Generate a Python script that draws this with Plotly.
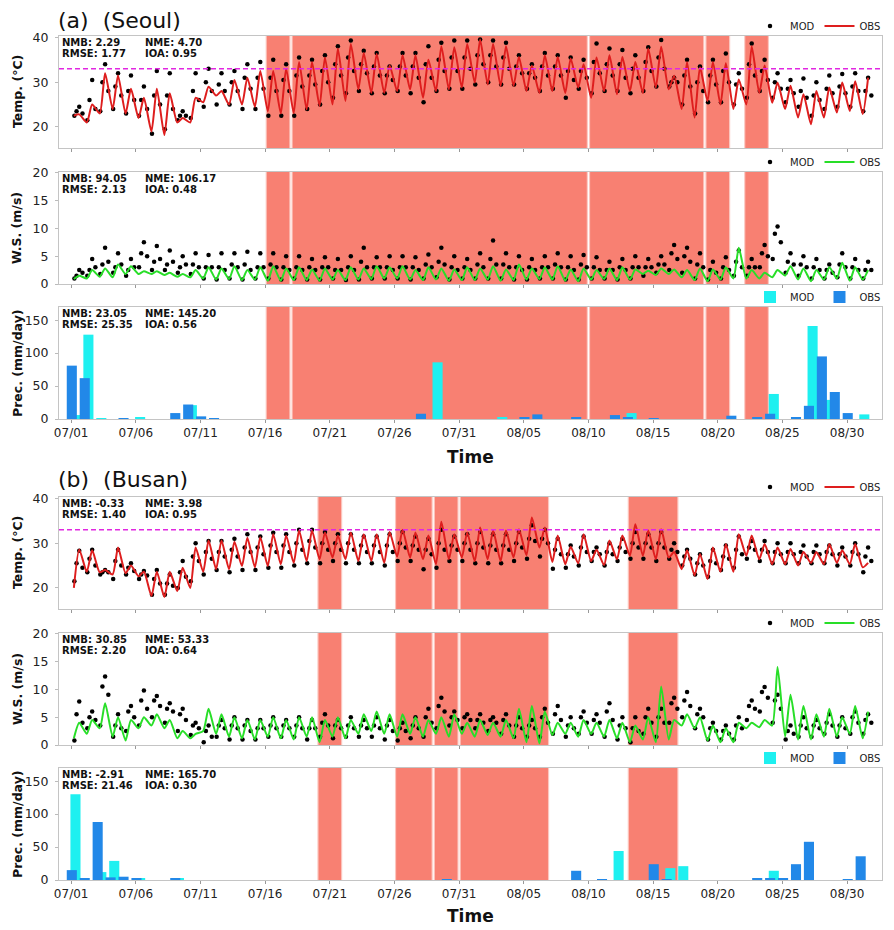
import plotly.graph_objects as go
import pandas as pd

# page is 894x930; the html body adds an 8px margin, so the figure is drawn 8px in
PAGE_W, PAGE_H = 894, 930
BODY = 8
W, H = PAGE_W - BODY, PAGE_H - BODY
START = pd.Timestamp("2018-07-01")
NDAYS = 62

tick_days = [0, 5, 10, 15, 20, 25, 30, 35, 40, 45, 50, 55, 60]
tick_labels = ["07/01", "07/06", "07/11", "07/16", "07/21", "07/26", "07/31",
               "08/05", "08/10", "08/15", "08/20", "08/25", "08/30"]

HEAT_THRESHOLD = 33

# heat-wave periods (day index from 07/01, [start, end))
seoul_heat = [(15, 17), (17, 40), (40, 49), (49, 51), (52, 54)]
busan_heat = [(19, 21), (25, 28), (28, 30), (30, 37), (43, 47)]

# ---------------- Seoul temperature (deg C) ----------------
seoul_t_obs_max = [22.8, 25.0, 32.0, 31.5, 28.5, 26.5, 28.5, 27.5, 22.0, 26.5,
                   29.0, 28.0, 30.5, 31.0, 32.5, 32.5, 33.0, 34.5, 34.5, 35.5,
                   37.5, 38.5, 36.5, 36.3, 33.7, 36.0, 36.0, 35.0, 38.0, 37.8,
                   38.5, 39.5, 38.5, 38.0, 35.6, 33.7, 36.0, 35.6, 35.3, 34.0,
                   35.5, 36.0, 35.6, 34.5, 37.5, 37.9, 31.4, 34.5, 33.3, 34.5,
                   34.2, 30.6, 38.0, 33.7, 29.9, 29.2, 27.3, 28.0, 28.8, 29.9,
                   30.2, 31.0]
seoul_t_obs_min = [22.5, 21.0, 23.0, 24.0, 23.0, 22.0, 19.0, 18.2, 21.0, 21.0,
                   25.5, 27.0, 25.0, 25.0, 24.5, 23.5, 23.0, 23.1, 23.9, 24.7,
                   25.0, 25.8, 28.4, 27.6, 27.6, 28.0, 28.4, 26.5, 28.0, 28.4,
                   28.8, 29.9, 29.5, 29.2, 29.2, 28.0, 27.6, 28.0, 27.6, 28.8,
                   26.5, 28.0, 27.3, 28.0, 27.6, 28.8, 28.4, 24.0, 22.1, 25.8,
                   25.0, 24.0, 25.0, 27.6, 25.4, 24.0, 22.1, 20.6, 22.1, 23.2,
                   23.6, 22.9]
seoul_t_mod_max = [24.5, 30.5, 34.0, 32.0, 31.5, 29.0, 32.5, 32.0, 23.5, 32.0,
                   33.0, 32.0, 32.5, 34.0, 34.5, 35.0, 34.0, 35.5, 35.0, 36.0,
                   38.0, 39.3, 37.0, 36.5, 33.5, 36.5, 36.5, 38.0, 38.8, 39.3,
                   39.3, 39.5, 39.3, 38.8, 36.0, 34.0, 36.5, 36.0, 35.5, 35.0,
                   38.6, 37.5, 37.2, 36.0, 37.8, 39.4, 31.0, 35.0, 33.5, 35.0,
                   36.4, 32.0, 38.6, 35.0, 32.0, 30.5, 30.8, 30.0, 31.5, 31.8,
                   32.0, 31.0]
seoul_t_mod_min = [22.5, 21.5, 23.5, 24.0, 23.0, 22.5, 18.5, 19.5, 21.5, 22.0,
                   24.5, 25.0, 25.0, 24.0, 24.0, 22.5, 22.5, 22.5, 24.0, 25.0,
                   26.5, 27.5, 28.0, 27.5, 27.5, 28.0, 27.5, 25.5, 28.0, 28.5,
                   28.5, 29.5, 30.0, 29.5, 29.5, 28.5, 28.0, 28.5, 26.5, 28.5,
                   27.5, 28.0, 28.0, 27.5, 28.0, 29.0, 29.0, 25.0, 23.0, 25.5,
                   25.5, 25.0, 26.5, 28.0, 26.5, 25.5, 24.5, 22.5, 24.0, 24.5,
                   24.5, 23.5]
seoul_t_mod_am = [23.5, 26.0, 30.0, 29.0, 28.0, 26.0, 27.0, 27.0, 22.5, 28.0,
                  30.0, 29.5, 30.0, 31.0, 31.0, 31.0, 30.5, 31.5, 31.5, 32.5,
                  34.0, 35.5, 34.0, 33.5, 31.5, 33.5, 33.5, 34.0, 35.0, 35.5,
                  35.5, 36.0, 36.0, 35.5, 33.5, 32.0, 33.5, 33.5, 32.5, 32.5,
                  34.5, 34.0, 34.0, 33.0, 34.5, 35.5, 30.0, 31.5, 30.0, 31.5,
                  32.5, 29.5, 34.0, 32.5, 30.0, 28.5, 28.0, 27.0, 28.5, 29.0,
                  29.0, 28.0]
seoul_t_mod_eve = [23.0, 24.0, 28.0, 27.0, 26.0, 24.0, 25.0, 24.0, 22.5, 26.0,
                   28.0, 28.0, 28.0, 28.5, 28.5, 28.0, 28.0, 29.0, 29.5, 30.0,
                   31.5, 32.5, 32.0, 31.5, 30.5, 31.5, 31.0, 31.0, 32.5, 32.5,
                   33.0, 34.0, 33.5, 33.0, 32.0, 31.0, 31.5, 31.5, 30.5, 31.0,
                   32.0, 31.5, 31.0, 31.0, 32.5, 33.0, 30.0, 29.0, 28.0, 29.5,
                   30.0, 28.5, 31.5, 30.5, 28.5, 27.5, 26.5, 26.0, 27.5, 27.5,
                   28.0, 27.0]

# ---------------- Busan temperature (deg C) ----------------
busan_t_obs_max = [28.6, 28.4, 24.0, 29.0, 25.0, 23.6, 23.6, 23.6, 24.5, 29.0,
                   30.6, 30.6, 30.3, 31.2, 31.3, 32.0, 31.7, 32.8, 32.8, 32.4,
                   31.7, 32.4, 32.0, 32.0, 32.5, 33.0, 32.4, 31.7, 34.8, 32.0,
                   32.4, 33.5, 32.8, 32.8, 33.1, 35.7, 33.5, 31.7, 29.2, 32.0,
                   28.5, 30.6, 31.7, 34.2, 32.8, 33.1, 28.0, 28.4, 27.6, 29.0,
                   29.8, 32.0, 31.7, 29.8, 29.0, 28.7, 28.0, 28.0, 29.8, 28.4,
                   29.8, 25.6]
busan_t_obs_min = [20.0, 23.6, 23.5, 23.0, 23.3, 22.6, 18.2, 18.0, 19.3, 20.0,
                   23.6, 24.2, 24.2, 24.9, 24.6, 24.9, 25.3, 25.6, 26.0, 26.4,
                   26.8, 26.4, 26.0, 26.0, 25.6, 27.0, 26.8, 26.4, 25.3, 26.4,
                   26.8, 26.0, 26.4, 26.0, 26.8, 27.3, 29.0, 25.8, 25.3, 25.5,
                   26.0, 25.1, 26.4, 27.2, 27.2, 26.4, 26.8, 24.2, 22.8, 22.0,
                   23.6, 23.6, 27.2, 26.4, 25.3, 25.3, 25.0, 25.6, 25.3, 25.6,
                   25.3, 24.6]
busan_t_mod_max = [28.3, 28.5, 24.0, 28.5, 25.5, 23.8, 24.0, 23.0, 26.0, 30.0,
                   30.5, 30.5, 31.0, 32.0, 31.5, 32.3, 32.0, 33.0, 33.0, 32.5,
                   32.0, 32.0, 31.5, 31.5, 32.0, 32.5, 31.5, 31.0, 33.0, 31.5,
                   32.0, 32.5, 32.0, 32.0, 32.5, 34.0, 33.0, 31.0, 29.5, 31.5,
                   29.0, 30.0, 31.0, 32.5, 32.0, 32.5, 30.0, 28.5, 27.5, 28.5,
                   29.5, 31.5, 30.5, 30.5, 30.0, 30.0, 29.5, 29.5, 29.5, 29.0,
                   30.0, 29.0]
busan_t_mod_min = [21.5, 23.5, 23.0, 22.0, 23.0, 22.0, 18.5, 18.5, 20.0, 21.5,
                   23.0, 24.0, 23.5, 24.0, 24.0, 24.5, 24.5, 25.0, 25.5, 25.5,
                   26.0, 25.5, 25.5, 25.5, 25.0, 26.0, 26.0, 24.2, 24.5, 26.0,
                   26.0, 25.5, 25.5, 25.5, 26.0, 26.5, 27.0, 24.3, 24.5, 25.0,
                   26.0, 25.0, 26.0, 26.5, 26.5, 26.0, 26.5, 25.0, 23.0, 22.5,
                   24.0, 24.5, 26.5, 26.0, 25.5, 25.5, 25.5, 25.5, 25.5, 25.0,
                   25.0, 23.5]
busan_t_mod_am = [25.5, 26.5, 23.5, 26.0, 24.5, 23.0, 22.0, 21.0, 23.5, 27.0,
                  28.0, 28.0, 28.5, 29.0, 29.0, 29.5, 29.5, 30.0, 30.5, 30.0,
                  30.0, 30.0, 29.5, 29.5, 29.5, 30.0, 29.5, 28.5, 30.0, 29.5,
                  30.0, 30.0, 29.5, 29.5, 30.0, 31.0, 31.0, 28.5, 27.5, 29.0,
                  28.0, 28.0, 29.0, 30.0, 30.0, 30.0, 28.5, 27.0, 25.5, 26.0,
                  27.0, 28.5, 29.0, 28.5, 28.0, 28.0, 28.0, 28.0, 28.0, 27.5,
                  28.0, 27.0]
busan_t_mod_eve = [24.5, 25.0, 23.5, 25.0, 23.8, 22.8, 21.0, 20.5, 22.5, 26.0,
                   26.5, 27.0, 27.0, 28.0, 27.5, 28.0, 28.0, 28.5, 29.0, 28.5,
                   28.5, 28.5, 28.0, 28.0, 28.0, 29.0, 28.5, 27.5, 28.5, 28.5,
                   28.5, 29.0, 28.5, 28.5, 29.0, 30.5, 30.0, 27.5, 27.0, 28.0,
                   27.5, 27.5, 28.0, 29.0, 29.0, 29.0, 28.0, 26.5, 25.0, 25.5,
                   26.5, 27.5, 28.5, 28.0, 27.5, 27.5, 27.0, 27.5, 27.5, 27.0,
                   27.5, 26.0]

# ---------------- Seoul wind speed (m/s) ----------------
seoul_w_obs_max = [1.5, 2.5, 2.8, 3.5, 3.2, 2.3, 2.3, 2.0, 1.8, 2.5,
                   3.0, 2.8, 3.2, 2.5, 3.0, 3.2, 2.8, 3.0, 2.6, 2.8,
                   2.5, 3.0, 2.8, 3.2, 3.0, 3.2, 2.5, 3.0, 2.8, 2.6,
                   3.0, 2.8, 3.2, 2.6, 3.5, 2.8, 3.0, 3.2, 2.6, 2.8,
                   2.5, 2.8, 3.0, 2.6, 2.4, 2.8, 2.6, 2.5, 2.8, 2.6,
                   3.0, 6.5, 2.5, 2.0, 2.5, 3.2, 2.8, 2.5, 3.0, 3.8,
                   3.0, 2.5]
seoul_w_obs_min = [0.9, 1.0, 1.3, 1.2, 1.8, 1.8, 1.8, 1.6, 1.3, 1.2,
                   1.0, 0.8, 0.9, 0.7, 0.8, 0.6, 0.6, 0.7, 0.7, 0.6,
                   0.8, 0.7, 0.8, 0.9, 1.0, 1.0, 0.8, 0.7, 0.8, 0.6,
                   0.7, 0.7, 0.8, 0.6, 0.7, 0.8, 0.9, 0.8, 0.6, 0.5,
                   0.8, 0.9, 0.7, 0.8, 1.8, 1.6, 1.8, 1.2, 0.7, 0.5,
                   0.8, 1.0, 1.0, 1.0, 1.2, 1.5, 0.8, 0.5, 0.8, 1.0,
                   0.6, 0.8]
seoul_w_mod_max = [2.5, 4.5, 6.5, 5.5, 4.5, 7.5, 6.8, 6.0, 5.0, 5.5,
                   5.2, 5.5, 5.5, 5.8, 5.5, 5.5, 5.0, 5.0, 4.5, 4.8,
                   4.5, 5.0, 6.5, 4.8, 5.0, 5.0, 4.8, 5.3, 6.5, 5.0,
                   4.5, 5.5, 7.8, 5.5, 5.0, 4.5, 5.0, 5.5, 5.0, 5.2,
                   4.8, 4.0, 4.5, 5.0, 4.5, 5.0, 7.0, 6.5, 5.5, 4.0,
                   4.8, 6.0, 4.5, 7.0, 10.3, 5.5, 5.0, 4.5, 3.5, 5.5,
                   4.5, 4.0]
seoul_w_mod_min = [1.0, 1.5, 1.8, 2.0, 1.5, 3.0, 2.5, 2.5, 2.0, 1.8,
                   1.0, 0.8, 1.0, 0.8, 1.0, 1.0, 0.8, 1.0, 0.8, 0.8,
                   1.0, 0.7, 0.8, 1.0, 1.0, 1.0, 0.8, 1.0, 1.2, 0.8,
                   1.0, 1.0, 1.0, 1.0, 0.8, 0.8, 1.0, 1.0, 0.8, 0.8,
                   1.0, 1.0, 0.8, 1.0, 1.5, 2.0, 2.5, 2.0, 1.0, 0.8,
                   1.0, 1.5, 1.5, 3.0, 4.5, 2.0, 1.5, 1.0, 1.0, 1.2,
                   1.0, 1.0]
seoul_w_mod_am = [1.5, 2.5, 3.5, 3.0, 2.5, 5.5, 4.0, 3.5, 3.0, 3.5,
                  3.0, 3.0, 3.5, 3.5, 3.0, 3.5, 3.0, 3.0, 3.0, 3.0,
                  2.5, 3.0, 4.0, 3.0, 3.0, 3.0, 3.0, 3.5, 4.0, 3.0,
                  3.0, 3.5, 4.5, 3.5, 3.0, 3.0, 3.0, 3.5, 3.0, 3.5,
                  3.0, 2.5, 3.0, 3.0, 3.0, 3.5, 5.5, 5.0, 3.5, 2.5,
                  3.0, 4.0, 3.0, 5.5, 9.0, 4.0, 3.5, 3.0, 2.5, 3.5,
                  3.0, 2.5]
seoul_w_mod_eve = [2.0, 3.0, 4.0, 3.5, 3.0, 5.0, 4.5, 4.0, 3.5, 3.0,
                   3.0, 2.5, 3.0, 2.5, 3.0, 3.0, 2.5, 2.5, 2.5, 3.0,
                   2.5, 2.5, 3.0, 3.0, 2.5, 3.0, 2.5, 3.0, 3.5, 2.5,
                   2.5, 3.0, 3.5, 3.0, 2.5, 2.5, 3.0, 3.0, 2.5, 3.0,
                   2.5, 2.5, 2.5, 3.0, 3.0, 3.5, 4.5, 4.0, 3.0, 2.0,
                   2.5, 3.0, 3.0, 5.0, 7.5, 3.5, 3.0, 2.5, 2.0, 3.0,
                   2.5, 2.5]

# ---------------- Busan wind speed (m/s) ----------------
busan_w_obs_max = [4.0, 4.5, 7.5, 5.0, 4.5, 5.0, 5.5, 4.5, 2.5, 2.0,
                   6.5, 5.5, 5.0, 4.5, 4.5, 5.0, 4.5, 5.0, 5.0, 4.5,
                   5.0, 4.5, 5.5, 6.0, 5.5, 5.5, 5.0, 4.5, 5.0, 5.5,
                   4.0, 4.5, 4.0, 4.5, 6.5, 7.0, 6.0, 4.0, 4.0, 4.5,
                   4.0, 4.5, 4.0, 3.5, 5.0, 10.5, 4.5, 5.5, 5.0, 3.5,
                   3.0, 4.0, 4.0, 4.5, 14.0, 9.0, 7.0, 5.5, 6.5, 5.0,
                   7.0, 6.0]
busan_w_obs_min = [1.2, 2.0, 3.0, 1.5, 0.8, 3.0, 3.5, 3.0, 1.2, 1.2,
                   2.5, 2.0, 1.5, 1.2, 1.0, 1.5, 1.2, 1.0, 1.5, 0.5,
                   1.5, 1.2, 2.0, 2.5, 2.0, 1.5, 2.0, 1.5, 2.0, 1.5,
                   2.0, 1.5, 1.8, 1.5, 1.2, 0.5, 0.3, 1.8, 2.0, 1.5,
                   2.0, 1.5, 1.2, 0.5, 1.0, 0.5, 1.0, 3.5, 3.0, 0.8,
                   0.5, 0.5, 3.0, 3.2, 3.5, 1.5, 1.0, 1.0, 1.5, 1.5,
                   2.0, 1.2]
busan_w_mod_max = [7.8, 6.0, 12.3, 5.5, 7.0, 9.8, 8.8, 7.5, 6.5, 4.0,
                   3.5, 4.5, 5.0, 4.5, 4.5, 5.0, 4.5, 5.0, 4.5, 5.5,
                   4.5, 5.0, 4.5, 5.0, 4.5, 4.0, 5.0, 6.5, 8.5, 6.0,
                   5.5, 5.5, 5.0, 5.5, 5.0, 4.5, 6.5, 7.0, 5.0, 6.0,
                   5.5, 7.5, 5.0, 5.0, 6.5, 6.5, 8.5, 9.5, 6.5, 4.0,
                   3.5, 5.0, 8.0, 10.4, 9.0, 3.5, 5.0, 4.5, 5.5, 5.0,
                   6.0, 5.5]
busan_w_mod_min = [0.8, 3.0, 3.5, 1.5, 2.5, 3.5, 5.0, 4.0, 2.5, 1.8,
                   0.5, 1.5, 1.0, 1.0, 1.0, 1.5, 1.5, 1.5, 1.0, 1.5,
                   1.2, 1.5, 1.5, 1.5, 1.0, 0.8, 1.2, 1.5, 3.0, 3.5,
                   3.0, 3.0, 2.5, 2.0, 1.5, 1.5, 1.5, 2.0, 1.5, 2.0,
                   2.0, 1.5, 1.0, 0.5, 2.0, 1.5, 4.0, 5.0, 3.0, 1.0,
                   1.0, 1.0, 4.5, 6.0, 4.0, 1.0, 1.5, 1.5, 2.0, 1.5,
                   2.0, 2.0]
busan_w_mod_am = [5.5, 5.0, 10.5, 3.5, 6.0, 8.0, 8.0, 6.5, 5.5, 3.5,
                  2.5, 3.5, 3.5, 3.5, 3.0, 3.5, 3.5, 3.5, 3.0, 4.0,
                  3.5, 3.5, 3.5, 3.5, 3.5, 3.0, 3.5, 5.0, 7.0, 5.0,
                  5.0, 4.5, 4.5, 4.5, 3.5, 3.5, 5.0, 5.5, 3.5, 5.0,
                  4.5, 6.0, 3.5, 3.0, 5.0, 5.0, 7.5, 8.0, 5.5, 3.0,
                  2.5, 3.5, 7.0, 9.5, 8.0, 2.5, 3.5, 3.5, 4.0, 3.5,
                  5.0, 4.5]
busan_w_mod_eve = [4.0, 4.5, 9.0, 3.0, 5.0, 6.5, 7.0, 6.0, 4.5, 3.0,
                   1.5, 3.0, 3.0, 2.5, 3.0, 3.0, 3.0, 3.0, 3.0, 3.5,
                   3.0, 3.0, 3.0, 3.0, 2.5, 2.5, 3.0, 4.0, 6.0, 4.5,
                   4.5, 4.0, 4.0, 3.5, 3.0, 3.0, 4.0, 4.5, 3.0, 4.0,
                   4.0, 4.5, 3.0, 2.5, 4.0, 4.0, 6.5, 7.0, 5.0, 2.5,
                   2.0, 3.0, 6.5, 8.5, 6.5, 2.0, 3.0, 3.0, 3.5, 3.0,
                   4.0, 4.0]

# ---------------- daily precipitation (mm/day) ----------------
seoul_p_obs = [81, 62, 0, 0, 0.5, 0, 0, 0, 9, 22,
               4, 1.5, 0, 0, 0, 0, 0, 0, 0, 0,
               0, 0, 0, 0, 0, 0, 0, 8, 0, 0,
               0, 0, 0, 0, 0, 2, 7, 0, 0, 2,
               0, 0, 6, 2, 0, 1, 0, 0, 0, 0,
               0, 5, 0, 3, 8, 0, 2, 20, 95, 41,
               9, 0]
seoul_p_mod = [6, 128, 0.8, 0, 0, 3, 0, 0, 0, 21,
               0, 0, 0, 0, 0, 0, 0, 0, 0, 0,
               0, 0, 0, 0, 0, 0, 0, 0, 86, 0,
               0, 0, 0, 2, 0, 0, 0, 0, 0, 0,
               0, 0, 0, 9, 0, 0, 0, 0, 0, 0,
               0, 0, 0, 0, 38, 0, 0, 141, 29, 0,
               0, 7]
busan_p_obs = [15, 2, 88, 4, 5, 2, 0, 0, 3, 0,
               0, 0, 0, 0, 0, 0, 0, 0, 0, 0,
               0, 0, 0, 0, 0, 0, 0, 0, 0, 0.5,
               0, 0, 0, 0, 0, 0, 0, 0, 0, 14,
               0, 0.5, 0, 0, 0, 24, 1.5, 0, 0, 0,
               0, 0, 0, 2, 2, 2, 24, 58, 0, 0,
               0.5, 36]
busan_p_mod = [130, 0, 12, 29, 0, 3, 0, 0, 2, 0,
               0, 0, 0, 0, 0, 0, 0, 0, 0, 0,
               0, 0, 0, 0, 0, 0, 0, 0, 0, 0,
               0, 0, 0, 0, 0, 0, 0, 0, 0, 0,
               0, 0, 44, 0, 0, 0, 18, 21, 0, 0,
               0, 0, 0, 0, 14, 0, 0, 0, 0, 0,
               0, 0]

# statistics text
stats = [
    ("2.29", "4.70", "1.77", "0.95"),
    ("94.05", "106.17", "2.13", "0.48"),
    ("23.05", "145.20", "25.35", "0.56"),
    ("-0.33", "3.98", "1.40", "0.95"),
    ("30.85", "53.33", "2.20", "0.64"),
    ("-2.91", "165.70", "21.46", "0.30"),
]

# ---------------- layout helpers (page pixel coordinates) ----------------
PLOT_L, PLOT_R = 59, 882
PANEL_TOPS = [36, 172, 307, 497, 633, 768]
PANEL_H = 112
FONT = "DejaVu Sans"

C_MOD_DOT = "black"
C_T_OBS = "rgb(222,30,30)"
C_W_OBS = "rgb(40,222,40)"
C_P_MOD = "rgb(30,240,240)"
C_P_OBS = "rgb(34,136,232)"
C_SHADE = "rgb(248,128,114)"


def py(p):
    return 1 - (p - BODY) / H


def px(p):
    return (p - BODY) / W


def at(day, hour):
    return START + pd.Timedelta(hours=24 * day + hour)


DAY_MS = 86400000
x_range = [START - pd.Timedelta(days=0.94), START + pd.Timedelta(days=62.7)]
tick_vals = [at(d, 0) for d in tick_days]

fig = go.Figure()


def suffix(i):
    return "" if i == 0 else str(i + 1)


def legend_name(i):
    return "legend" + suffix(i)


def add_hourly_panel(i, mod_min, mod_am, mod_max, mod_eve, obs_min, obs_max, obs_color):
    xs_mod, ys_mod = [], []
    for d in range(NDAYS):
        xs_mod += [at(d, 6), at(d, 10), at(d, 15), at(d, 21)]
        ys_mod += [mod_min[d], mod_am[d], mod_max[d], mod_eve[d]]
    xs_obs, ys_obs = [], []
    for d in range(NDAYS):
        xs_obs += [at(d, 5), at(d, 15)]
        ys_obs += [obs_min[d], obs_max[d]]
    fig.add_trace(go.Scatter(x=xs_mod, y=ys_mod, mode="markers", name="MOD",
                             marker=dict(color=C_MOD_DOT, size=4.5),
                             xaxis="x" + suffix(i), yaxis="y" + suffix(i),
                             legend=legend_name(i)))
    fig.add_trace(go.Scatter(x=xs_obs, y=ys_obs, mode="lines", name="OBS",
                             line=dict(color=obs_color, width=2, shape="spline", smoothing=0.6),
                             xaxis="x" + suffix(i), yaxis="y" + suffix(i),
                             legend=legend_name(i)))


def add_precip_panel(i, p_mod, p_obs):
    fig.add_trace(go.Bar(x=[at(d, 8) for d in range(NDAYS)], y=p_mod, name="MOD",
                         width=0.78 * DAY_MS, marker=dict(color=C_P_MOD, line=dict(width=0)),
                         xaxis="x" + suffix(i), yaxis="y" + suffix(i),
                         legend=legend_name(i)))
    fig.add_trace(go.Bar(x=[at(d, 1.2) for d in range(NDAYS)], y=p_obs, name="OBS",
                         width=0.78 * DAY_MS, marker=dict(color=C_P_OBS, line=dict(width=0)),
                         xaxis="x" + suffix(i), yaxis="y" + suffix(i),
                         legend=legend_name(i)))


add_hourly_panel(0, seoul_t_mod_min, seoul_t_mod_am, seoul_t_mod_max, seoul_t_mod_eve,
                 seoul_t_obs_min, seoul_t_obs_max, C_T_OBS)
add_hourly_panel(1, seoul_w_mod_min, seoul_w_mod_am, seoul_w_mod_max, seoul_w_mod_eve,
                 seoul_w_obs_min, seoul_w_obs_max, C_W_OBS)
add_precip_panel(2, seoul_p_mod, seoul_p_obs)
add_hourly_panel(3, busan_t_mod_min, busan_t_mod_am, busan_t_mod_max, busan_t_mod_eve,
                 busan_t_obs_min, busan_t_obs_max, C_T_OBS)
add_hourly_panel(4, busan_w_mod_min, busan_w_mod_am, busan_w_mod_max, busan_w_mod_eve,
                 busan_w_obs_min, busan_w_obs_max, C_W_OBS)
add_precip_panel(5, busan_p_mod, busan_p_obs)

y_specs = [
    ([15.3, 40.3], [20, 30, 40]),
    ([0, 20.1], [0, 5, 10, 15, 20]),
    ([0, 170], [0, 50, 100, 150]),
    ([15.3, 40.3], [20, 30, 40]),
    ([0, 20.1], [0, 5, 10, 15, 20]),
    ([0, 170], [0, 50, 100, 150]),
]
y_titles = ["Temp. (°C)", "W.S. (m/s)", "Prec. (mm/day)"] * 2

layout = dict(
    width=W, height=H, margin=dict(l=0, r=0, t=0, b=0, pad=0, autoexpand=False),
    paper_bgcolor="white", plot_bgcolor="white", barmode="overlay",
    font=dict(family=FONT, size=12, color="#222"),
)

shapes = []
annotations = []
for i in range(6):
    top = PANEL_TOPS[i]
    bot = top + PANEL_H
    layout["xaxis" + suffix(i)] = dict(
        type="date", domain=[px(PLOT_L), px(PLOT_R)], range=x_range,
        anchor="y" + suffix(i), tickvals=tick_vals, ticktext=tick_labels,
        showticklabels=(i % 3 == 2), ticks="outside", ticklen=3, tickcolor="#999",
        showline=True, mirror=True, linecolor="#c4c4c4", linewidth=1,
        showgrid=False, zeroline=False, tickfont=dict(size=12, color="#222"),
        automargin=False,
    )
    rng, tv = y_specs[i]
    layout["yaxis" + suffix(i)] = dict(
        domain=[py(bot), py(top)], range=rng, anchor="x" + suffix(i),
        tickvals=tv, ticks="outside", ticklen=3, tickcolor="#bbb",
        showline=True, mirror=True, linecolor="#c4c4c4", linewidth=1,
        showgrid=False, zeroline=False, tickfont=dict(size=12.5, color="#222"),
        ticklabelstandoff=4, automargin=False,
    )
    layout[legend_name(i)] = dict(
        orientation="h", x=px(750), xanchor="left", y=py(top - 10), yanchor="middle",
        font=dict(size=10, color="#222"), bgcolor="rgba(0,0,0,0)",
        traceorder="normal",
    )
    # heat wave shading
    spans = seoul_heat if i < 3 else busan_heat
    for (d0, d1) in spans:
        for inset, op in ((0.04, 0.45), (0.13, 1.0)):
            shapes.append(dict(type="rect", xref="x" + suffix(i), yref="y" + suffix(i) + " domain",
                               x0=at(d0 + inset, 0), x1=at(d1 - inset, 0), y0=0, y1=1,
                               fillcolor=C_SHADE, opacity=op, line=dict(width=0), layer="below"))
    if i % 3 == 0:
        shapes.append(dict(type="line", xref="x" + suffix(i) + " domain", yref="y" + suffix(i),
                           x0=0, x1=1, y0=HEAT_THRESHOLD, y1=HEAT_THRESHOLD,
                           line=dict(color="rgb(225,40,225)", width=1.5, dash="5px,3px")))
    # y title
    annotations.append(dict(text="<b>" + y_titles[i] + "</b>", xref="paper", yref="paper",
                            x=px(17), y=py(top + PANEL_H / 2), textangle=-90,
                            showarrow=False, font=dict(size=12.5, color="#111"),
                            xanchor="center", yanchor="middle"))
    # stats
    nmb, nme, rmse, ioa = stats[i]
    for txt, xx, yy in ((f"NMB: {nmb}", 60, top + 6), (f"NME: {nme}", 143, top + 6),
                        (f"RMSE: {rmse}", 60, top + 17.5), (f"IOA: {ioa}", 143, top + 17.5)):
        annotations.append(dict(text="<b>" + txt + "</b>", xref="paper", yref="paper",
                                x=px(xx), y=py(yy), xanchor="left", yanchor="middle",
                                showarrow=False, font=dict(size=10, color="#111")))

for title, yy in (("(a)\u00a0\u00a0(Seoul)", 21), ("(b)\u00a0\u00a0(Busan)", 479)):
    annotations.append(dict(text=title, xref="paper", yref="paper", x=px(56), y=py(yy),
                            xanchor="left", yanchor="middle", showarrow=False,
                            font=dict(size=22, color="#111")))
for yy in (457, 916):
    annotations.append(dict(text="<b>Time</b>", xref="paper", yref="paper", x=px(470), y=py(yy),
                            xanchor="center", yanchor="middle", showarrow=False,
                            font=dict(size=17, color="#111")))

layout["shapes"] = shapes
layout["annotations"] = annotations
fig.update_layout(**layout)
fig.write_html("out.html")
